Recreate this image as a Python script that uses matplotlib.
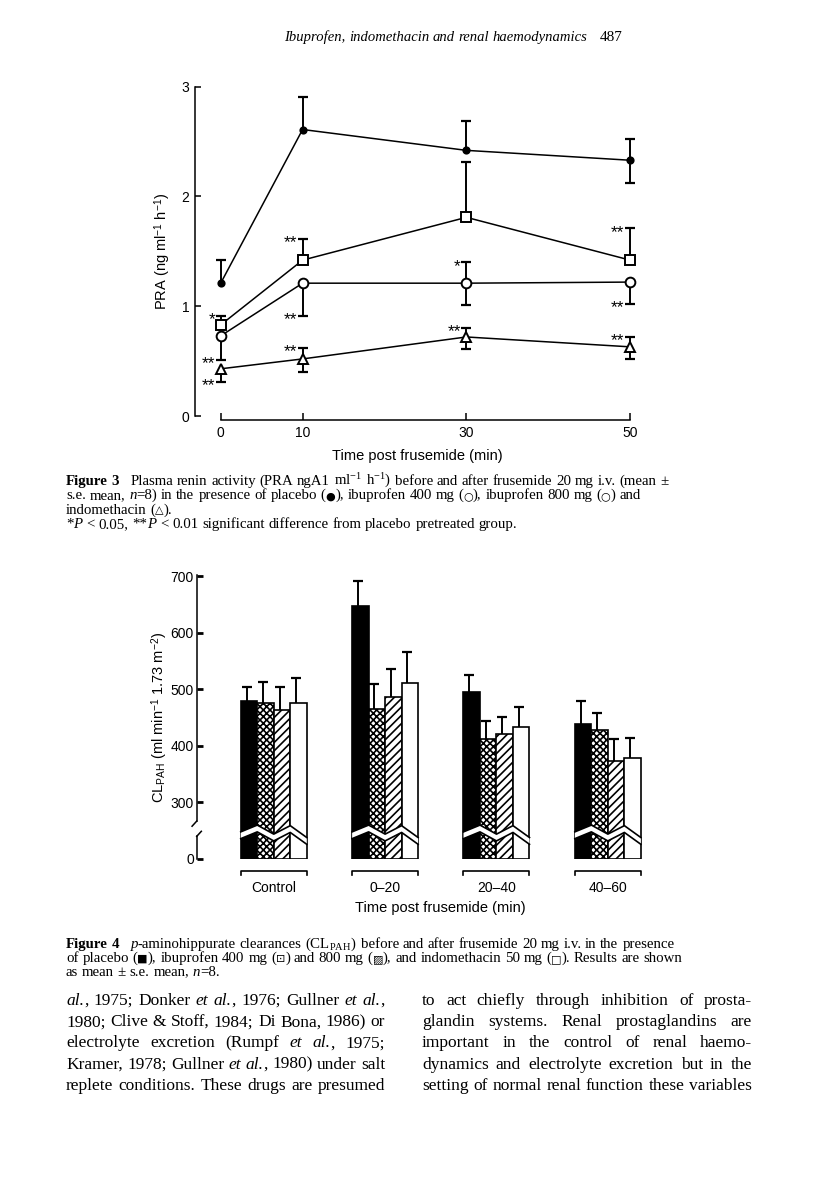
import matplotlib
matplotlib.use("Agg")
import matplotlib.pyplot as plt

W, H = 816, 1179

# ---- Figure 3 data: PRA (ng ml-1 h-1) vs time post frusemide
times = [0, 10, 30, 50]
placebo_pra = [1.21, 2.61, 2.42, 2.33]
placebo_up = [0.21, 0.30, 0.27, 0.19]
placebo_dn = [0, 0, 0, 0.21]
ibu800_pra = [0.83, 1.42, 1.81, 1.42]
ibu800_up = [0.08, 0.19, 0.50, 0.29]
ibu800_dn = [0, 0, 0, 0]
ibu400_pra = [0.73, 1.21, 1.21, 1.22]
ibu400_up = [0, 0, 0.19, 0]
ibu400_dn = [0.22, 0.30, 0.20, 0.20]
indo_pra = [0.43, 0.52, 0.72, 0.63]
indo_up = [0, 0.10, 0.08, 0.09]
indo_dn = [0.12, 0.12, 0.11, 0.11]

# significance marks: (series, time index, which error end, mark)
sig_marks = [
    ("ibu800", 0, "up", "*"), ("ibu400", 0, "dn", "**"), ("indo", 0, "dn", "**"),
    ("ibu800", 1, "up", "**"), ("ibu400", 1, "dn", "**"), ("indo", 1, "up", "**"),
    ("ibu400", 2, "up", "*"), ("indo", 2, "up", "**"),
    ("ibu800", 3, "up", "**"), ("ibu400", 3, "dn", "**"), ("indo", 3, "up", "**"),
]

# ---- Figure 4 data: CL_PAH (ml min-1 1.73 m-2)
periods = ["Control", "0\u201320", "20\u201340", "40\u201360"]
placebo_cl = [480, 647, 495, 439]
ibu400_cl = [476, 466, 413, 429]
ibu800_cl = [464, 487, 421, 374]
indo_cl = [476, 512, 433, 378]
placebo_se = [24, 45, 30, 41]
ibu400_se = [38, 43, 32, 30]
ibu800_se = [40, 49, 30, 39]
indo_se = [45, 54, 36, 36]

plt.rcParams["mathtext.fontset"] = "custom"
plt.rcParams["mathtext.rm"] = "Liberation Serif"
plt.rcParams["mathtext.it"] = "Liberation Serif:italic"
plt.rcParams["mathtext.bf"] = "Liberation Serif:bold"
plt.rcParams["mathtext.sf"] = "Liberation Sans"
plt.rcParams["hatch.linewidth"] = 1.2
plt.rcParams["font.family"] = ["Liberation Sans", "DejaVu Sans"]

fig = plt.figure(figsize=(W / 100, H / 100), dpi=100)
renderer = fig.canvas.get_renderer()


def fx(x):
    return x / W


def fy(y):
    return 1 - y / H


# ================= Figure 3 =================
ax3 = fig.add_axes([fx(195), fy(416), 445 / W, (416 - 86.7) / H])
ax3.set_xlim(-3.14, 51.2)
ax3.set_ylim(0, 3)
for s in ["top", "right"]:
    ax3.spines[s].set_visible(False)
ax3.spines["left"].set_bounds(0, 3)
ax3.spines["bottom"].set_bounds(0, 50)
ax3.spines["bottom"].set_position(("outward", 3))
ax3.spines["left"].set_linewidth(1.1)
ax3.spines["bottom"].set_linewidth(1.1)
ax3.set_xticks(times)
ax3.set_yticks([0, 1, 2, 3])
ax3.tick_params(axis="x", direction="in", length=5, width=1.1, pad=4, labelsize=10)
ax3.tick_params(axis="y", direction="in", length=4, width=1.1, pad=4, labelsize=10)
ax3.set_xlabel("Time post frusemide (min)", fontsize=10.5, labelpad=7)
ax3.set_ylabel(r"PRA (ng ml$^{\mathsf{-1}}$ h$^{\mathsf{-1}}$)", fontsize=10.5)
ax3.yaxis.set_label_coords(-0.05, 0.5)

series = {
    "placebo": (placebo_pra, placebo_up, placebo_dn, dict(marker="o", ms=4.5, mfc="black")),
    "ibu800": (ibu800_pra, ibu800_up, ibu800_dn, dict(marker="s", ms=7, mfc="white")),
    "ibu400": (ibu400_pra, ibu400_up, ibu400_dn, dict(marker="o", ms=7, mfc="white")),
    "indo": (indo_pra, indo_up, indo_dn, dict(marker="^", ms=7, mfc="white")),
}
for name, (vals, up, dn, mk) in series.items():
    for t, v, u, d in zip(times, vals, up, dn):
        for e in (u, -d):
            if e != 0:
                ax3.vlines(t, v, v + e, color="black", lw=1.4, zorder=2)
                ax3.plot(t, v + e, marker="_", ms=7, mew=1.6, color="black", zorder=2)
    ax3.plot(times, vals, color="black", lw=1.1, mec="black", mew=1.4, zorder=3, **mk)

for name, i, end, mark in sig_marks:
    vals, up, dn, _ = series[name]
    yv = vals[i] + up[i] if end == "up" else vals[i] - dn[i]
    ax3.annotate(mark, (times[i], yv), xytext=(-4, -6), textcoords="offset points",
                 ha="right", va="baseline", fontsize=12.5)

# ================= Figure 4 =================
ax4 = fig.add_axes([fx(196.7), fy(859), (660 - 196.7) / W, (859 - 575) / H])
gstep = 6.75
ax4.set_xlim(-2.67, 25.41)
ax4.set_ylim(0, 502.5)
for s in ["top", "right", "left", "bottom"]:
    ax4.spines[s].set_visible(False)


def d(v):
    # broken axis: values above 300 shown linearly, 0-300 compressed
    return v - 200


yt = [0, 300, 400, 500, 600, 700]
ax4.set_yticks([0, d(300), d(400), d(500), d(600), d(700)])
ax4.set_yticklabels([str(v) for v in yt])
ax4.tick_params(axis="y", direction="in", length=4, width=2, pad=2, labelsize=10)
tr = ax4.get_yaxis_transform()
ax4.plot([0, 0], [67, 502.5], color="black", lw=1.1, transform=tr, clip_on=False)
ax4.plot([0, -0.01], [67, 58], color="black", lw=1.1, transform=tr, clip_on=False)
ax4.plot([0.01, 0], [49, 40], color="black", lw=1.1, transform=tr, clip_on=False)
ax4.plot([0, 0], [0, 40], color="black", lw=1.1, transform=tr, clip_on=False)

treat = [
    (placebo_cl, placebo_se, dict(color="black")),
    (ibu400_cl, ibu400_se, dict(color="white", hatch="xxxxx")),
    (ibu800_cl, ibu800_se, dict(color="white", hatch="////")),
    (indo_cl, indo_se, dict(color="white")),
]
zig_low = [36, 48, 32, 47, 26]
zig_gap = 12
for k, (vals, se, st) in enumerate(treat):
    xs = [g * gstep + k + 0.5 for g in range(len(periods))]
    ax4.bar(xs, [d(v) for v in vals], width=1, edgecolor="black", lw=1.2, zorder=2, **st)
    for x, v, e in zip(xs, vals, se):
        ax4.vlines(x - 0.15, d(v), d(v + e), color="black", lw=1.4, zorder=1)
        ax4.plot(x - 0.15, d(v + e), marker="_", ms=7, mew=1.6, color="black", zorder=1)

for g in range(len(periods)):
    ex = [g * gstep + i for i in range(5)]
    upper = [z + zig_gap for z in zig_low]
    ax4.fill(ex + ex[::-1], zig_low + upper[::-1], color="white", zorder=3, lw=0)
    ax4.plot(ex, zig_low, color="black", lw=1.2, zorder=4)
    ax4.plot(ex, upper, color="black", lw=1.2, zorder=4)
    ax4.plot([ex[0], ex[0], ex[-1], ex[-1]], [-28, -21, -21, -28], color="black",
             lw=1.2, clip_on=False)

ax4.set_xticks([g * gstep + 2 for g in range(len(periods))])
ax4.set_xticklabels(periods)
ax4.tick_params(axis="x", length=0, pad=16, labelsize=10)
ax4.set_ylabel(r"CL$_{\mathsf{PAH}}$ (ml min$^{\mathsf{-1}}$ 1.73 m$^{\mathsf{-2}}$)", fontsize=10.5)
ax4.yaxis.set_label_coords(-0.058, 0.5)
fig.text(fx(440), fy(908), "Time post frusemide (min)", ha="center", va="center", fontsize=10.5)

# ================= page text =================
SER = ["Liberation Serif", "DejaVu Sans"]
R = dict(family=SER)
I = dict(family=SER, style="italic")
B = dict(family=SER, weight="bold")
S = dict(family=["DejaVu Sans"], size=8)


def to_words(segs):
    words = [[]]
    for txt, st in segs:
        for k, p in enumerate(txt.split(" ")):
            if k > 0:
                words.append([])
            if p:
                words[-1].append((p, st))
    while words and not words[0]:
        words.pop(0)
    return words


def put_line(segs, x0, y, size, x1=None):
    words = to_words(segs)
    probe = fig.text(0, 0, "x x", family=SER, size=size)
    probe2 = fig.text(0, 0, "xx", family=SER, size=size)
    space = probe.get_window_extent(renderer).width - probe2.get_window_extent(renderer).width
    probe.remove()
    probe2.remove()
    placed = []
    for w in words:
        row = []
        for txt, st in w:
            kw = dict(size=size)
            kw.update(st)
            t = fig.text(0, 0, txt, va="baseline", ha="left", **kw)
            row.append((t, t.get_window_extent(renderer).width))
        placed.append(row)
    widths = [sum(wd for _, wd in row) for row in placed]
    gap = space
    if x1 is not None and len(words) > 1:
        gap = (x1 - x0 - sum(widths)) / (len(words) - 1)
    x = x0
    for row, ww in zip(placed, widths):
        cx = x
        for t, wd in row:
            t.set_position((fx(cx), fy(y)))
            cx += wd
        x += ww + gap


put_line([("Ibuprofen, indomethacin and renal haemodynamics", I)], 284, 41, 10.5)
put_line([("487", R)], 600, 41, 11)

cap3 = [
    [("Figure 3", B), ("   Plasma renin activity (PRA ngA1 ml$^{-1}$ h$^{-1}$) before and after frusemide 20 mg i.v. (mean \u00b1", R)],
    [("s.e. mean, ", R), ("n", I), ("=8) in the presence of placebo (", R), ("\u25cf", S),
     ("), ibuprofen 400 mg (", R), ("\u25cb", S), ("), ibuprofen 800 mg (", R), ("\u25cb", S), (") and", R)],
    [("indomethacin (", R), ("\u25b3", S), (").", R)],
    [("*", R), ("P", I), (" < 0.05, **", R), ("P", I), (" < 0.01 significant difference from placebo pretreated group.", R)],
]
for i, ln in enumerate(cap3):
    put_line(ln, 66, 485 + 14.3 * i, 10.7)

cap4 = [
    [("Figure 4", B), ("   ", R), ("p", I), ("-aminohippurate clearances (CL$_{\\mathrm{PAH}}$) before and after frusemide 20 mg i.v. in the presence", R)],
    [("of placebo (", R), ("\u25a0", S), ("), ibuprofen 400 mg (", R), ("\u22a1", S), (") and 800 mg (", R),
     ("\u25a8", S), ("), and indomethacin 50 mg (", R), ("\u25a1", S), ("). Results are shown", R)],
    [("as mean \u00b1 s.e. mean, ", R), ("n", I), ("=8.", R)],
]
for i, ln in enumerate(cap4):
    put_line(ln, 66, 948 + 13.8 * i, 10.7)

left_col = [
    [("al.", I), (", 1975; Donker ", R), ("et al.", I), (", 1976; Gullner ", R), ("et al.", I), (",", R)],
    [("1980; Clive & Stoff, 1984; Di Bona, 1986) or", R)],
    [("electrolyte excretion (Rumpf ", R), ("et al.", I), (", 1975;", R)],
    [("Kramer, 1978; Gullner ", R), ("et al.", I), (", 1980) under salt", R)],
    [("replete conditions. These drugs are presumed", R)],
]
right_col = [
    "to act chiefly through inhibition of prosta-",
    "glandin systems. Renal prostaglandins are",
    "important in the control of renal haemo-",
    "dynamics and electrolyte excretion but in the",
    "setting of normal renal function these variables",
]
for i, ln in enumerate(left_col):
    put_line(ln, 66, 1005 + 21.2 * i, 12.5, x1=385)
for i, ln in enumerate(right_col):
    put_line([(ln, R)], 422, 1005 + 21.2 * i, 12.5, x1=752)

fig.savefig("out.png", dpi=100)
